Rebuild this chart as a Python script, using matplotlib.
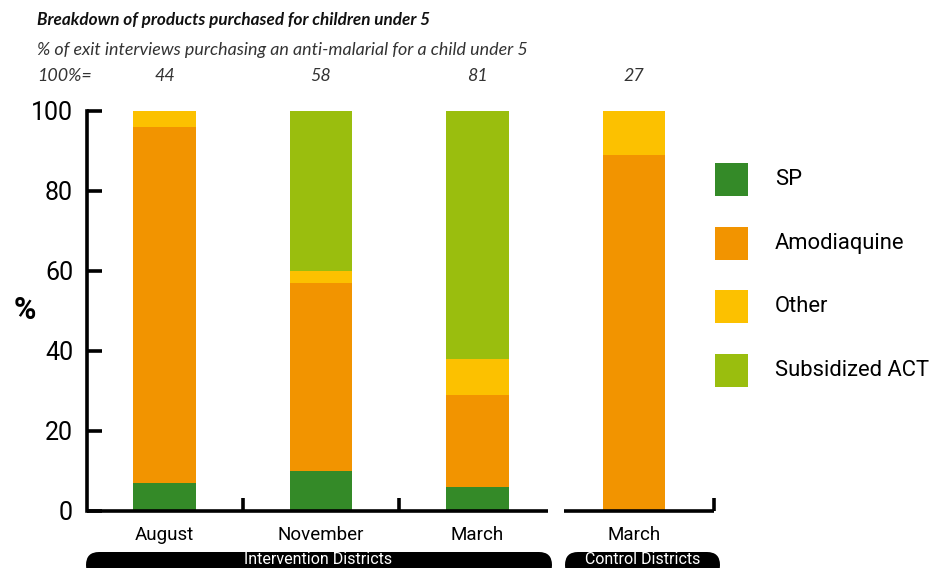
import numpy as np
import matplotlib
matplotlib.use("Agg")
import matplotlib.pyplot as plt
from matplotlib.patches import Rectangle, FancyBboxPatch

plt.rcParams['font.family'] = ['Roboto', 'DejaVu Sans']

# data (% of purchases, stacked bottom to top)
categories = ["August", "November", "March", "March"]
sample_n = [44, 58, 81, 27]
series = ["SP", "Amodiaquine", "Other", "Subsidized ACT"]
sp = [7, 10, 6, 0]
amodiaquine = [89, 47, 23, 89]
other = [4, 3, 9, 11]
subsidized_act = [0, 40, 62, 0]
groups = ["Intervention Districts", "Control Districts"]

colors = ["#348a28", "#f29400", "#fcc100", "#9abe0e"]

W, H = 937, 568
fig = plt.figure(figsize=(W / 100, H / 100), dpi=100)

def fx(px):
    return px / W

def fy(py):
    return 1 - py / H

ax = fig.add_axes([fx(87), fy(511), fx(720) - fx(87), fy(111) - fy(511)])
x = np.arange(len(categories))
bottom = np.zeros(len(categories))
for vals, c in zip([sp, amodiaquine, other, subsidized_act], colors):
    ax.bar(x, vals, width=0.40, bottom=bottom, color=c, linewidth=0, zorder=2)
    bottom += np.array(vals)

ax.set_xlim(-0.495, 3.549)
ax.set_ylim(0, 100)
for s in ["top", "right", "bottom"]:
    ax.spines[s].set_visible(False)
ax.spines["left"].set_linewidth(2.6)
ax.spines["left"].set_capstyle("projecting")
ax.set_yticks(range(0, 101, 20))
ax.tick_params(axis="y", direction="in", length=11, width=2.6, labelsize=18, pad=10)
ax.set_xticks(x)
ax.set_xticklabels(categories, fontsize=13.5)
ax.tick_params(axis="x", length=0, pad=11)

# broken x axis with divider ticks
lw = 2.6
ax.plot([-0.495, 2.45], [0, 0], color="black", lw=lw, clip_on=False, zorder=3,
        solid_capstyle="butt")
ax.plot([2.553, 3.511], [0, 0], color="black", lw=lw, clip_on=False, zorder=3,
        solid_capstyle="butt")
for xv in [0.5, 1.5, 3.511]:
    ax.plot([xv, xv], [0, 3.2], color="black", lw=lw, clip_on=False, zorder=3,
            solid_capstyle="butt")

# titles
fig.text(fx(37), fy(20), "Breakdown of products purchased for children under 5",
         family="Lato", style="italic", weight="bold", fontsize=12.3,
         va="center", ha="left", color="#111111")
fig.text(fx(37), fy(50), "% of exit interviews purchasing an anti-malarial for a child under 5",
         family="Lato", style="italic", fontsize=12.9, va="center", ha="left",
         color="#333333")
fig.text(fx(37), fy(76), "100%=", family="Lato", style="italic", fontsize=12.9,
         va="center", ha="left", color="#333333")
trans = matplotlib.transforms.blended_transform_factory(ax.transData, fig.transFigure)
for xi, n in zip(x, sample_n):
    fig.text(xi, fy(76), str(n), transform=trans, family="Lato", style="italic",
             fontsize=12.9, va="center", ha="center", color="#333333")

fig.text(fx(25), fy(310), "%", fontsize=22, weight="bold", ha="center", va="center")

# legend
for i, (name, c) in enumerate(zip(series, colors)):
    top = 163 + i * 63.7
    fig.add_artist(Rectangle((fx(715), fy(top + 33)), fx(33), 33 / H,
                             transform=fig.transFigure, color=c, lw=0))
    fig.text(fx(775), fy(top + 16.5), name, fontsize=15.8, ha="left", va="center")

# group pills at the bottom
pills = [(86, 552, 318), (565, 720, 643)]
for (x0, x1, xc), g in zip(pills, groups):
    box = FancyBboxPatch((x0 / 100, (H - 578) / 100), (x1 - x0) / 100, 0.26,
                         boxstyle="round,pad=0,rounding_size=0.13",
                         transform=fig.dpi_scale_trans, facecolor="black",
                         edgecolor="none")
    fig.add_artist(box)
    fig.text(fx(xc), fy(564), g, color="white", fontsize=11.5, ha="center",
             va="baseline")

fig.savefig("out.png", dpi=100)
